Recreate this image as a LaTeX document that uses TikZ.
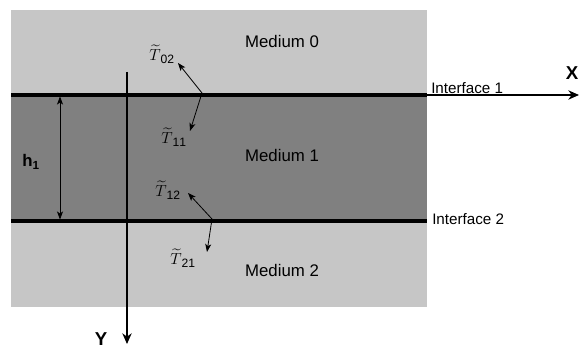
\documentclass[tikz,border=0pt]{standalone}
\usepackage{fontspec}
\setmainfont{Liberation Sans}
\usepackage{amsmath}
\usetikzlibrary{arrows.meta}
\definecolor{lightg}{HTML}{C6C6C6}
\definecolor{darkg}{HTML}{808080}
\begin{document}
\begin{tikzpicture}[x=0.75pt,y=-0.75pt,
  lab/.style={font=\fontsize{12.6}{14}\selectfont, inner sep=0pt},
  ilab/.style={font=\fontsize{11.4}{13}\selectfont, inner sep=0pt, anchor=west},
  tlab/.style={font=\fontsize{13}{15}\selectfont, inner sep=0pt},
  axis/.style={line width=0.9pt, -{Stealth[length=8pt,width=7pt,inset=2.5pt]}},
  wave/.style={line width=0.6pt, -{Stealth[length=6pt,width=4.5pt,inset=1.5pt]}},
  iface/.style={line width=2.4pt}]
\useasboundingbox (0,0) rectangle (579,348);
\fill[lightg] (11,10) rectangle (427,307);
\fill[darkg] (11,95) rectangle (427,221);
\coordinate (i1l) at (11,95);
\coordinate (i1r) at (427,95);
\coordinate (i2l) at (11,221);
\coordinate (i2r) at (427,221);
\draw[iface] (i1l) -- (i1r);
\draw[iface] (i2l) -- (i2r);
\coordinate (xs) at (427,95);
\coordinate (xe) at (579,95);
\draw[axis] (xs) -- (xe);
\coordinate (ys) at (127,72);
\coordinate (ye) at (127,344);
\draw[axis] (ys) -- (ye);
\coordinate (ht) at (60,96.5);
\coordinate (hb) at (60,219.5);
\draw[wave,{Stealth[length=6pt,width=4.5pt,inset=1.5pt]}-{Stealth[length=6pt,width=4.5pt,inset=1.5pt]}] (ht) -- (hb);
\node[lab,font=\fontsize{12.6}{14}\selectfont\bfseries] (h1) at (31,162) {h\textsubscript{1}};
\node[lab] (m0) at (282,42) {Medium 0};
\node[lab] (m1) at (282,156) {Medium 1};
\node[lab] (m2) at (282,270) {Medium 2};
\node[ilab] (if1) at (431,88) {Interface 1};
\node[ilab] (if2) at (432,219) {Interface 2};
\node[lab,font=\fontsize{14}{16}\selectfont\bfseries] (X) at (572,73) {X};
\node[lab,font=\fontsize{14}{16}\selectfont\bfseries] (Y) at (101,339) {Y};
\coordinate (p1) at (202,93);
\coordinate (p2) at (212,219);
\coordinate (a02) at (178,63);
\coordinate (a11) at (190,131);
\coordinate (a12) at (188,193);
\coordinate (a21) at (207,252);
\draw[wave] (p1) -- (a02);
\draw[wave] (p1) -- (a11);
\draw[wave] (p2) -- (a12);
\draw[wave] (p2) -- (a21);
\node[tlab] (t02) at (162,54) {$\widetilde{T}_{\,\mathrm{02}}$};
\node[tlab] (t11) at (174,137) {$\widetilde{T}_{\,\mathrm{11}}$};
\node[tlab] (t12) at (168,190) {$\widetilde{T}_{\,\mathrm{12}}$};
\node[tlab] (t21) at (183,258) {$\widetilde{T}_{\,\mathrm{21}}$};
\end{tikzpicture}
\end{document}
